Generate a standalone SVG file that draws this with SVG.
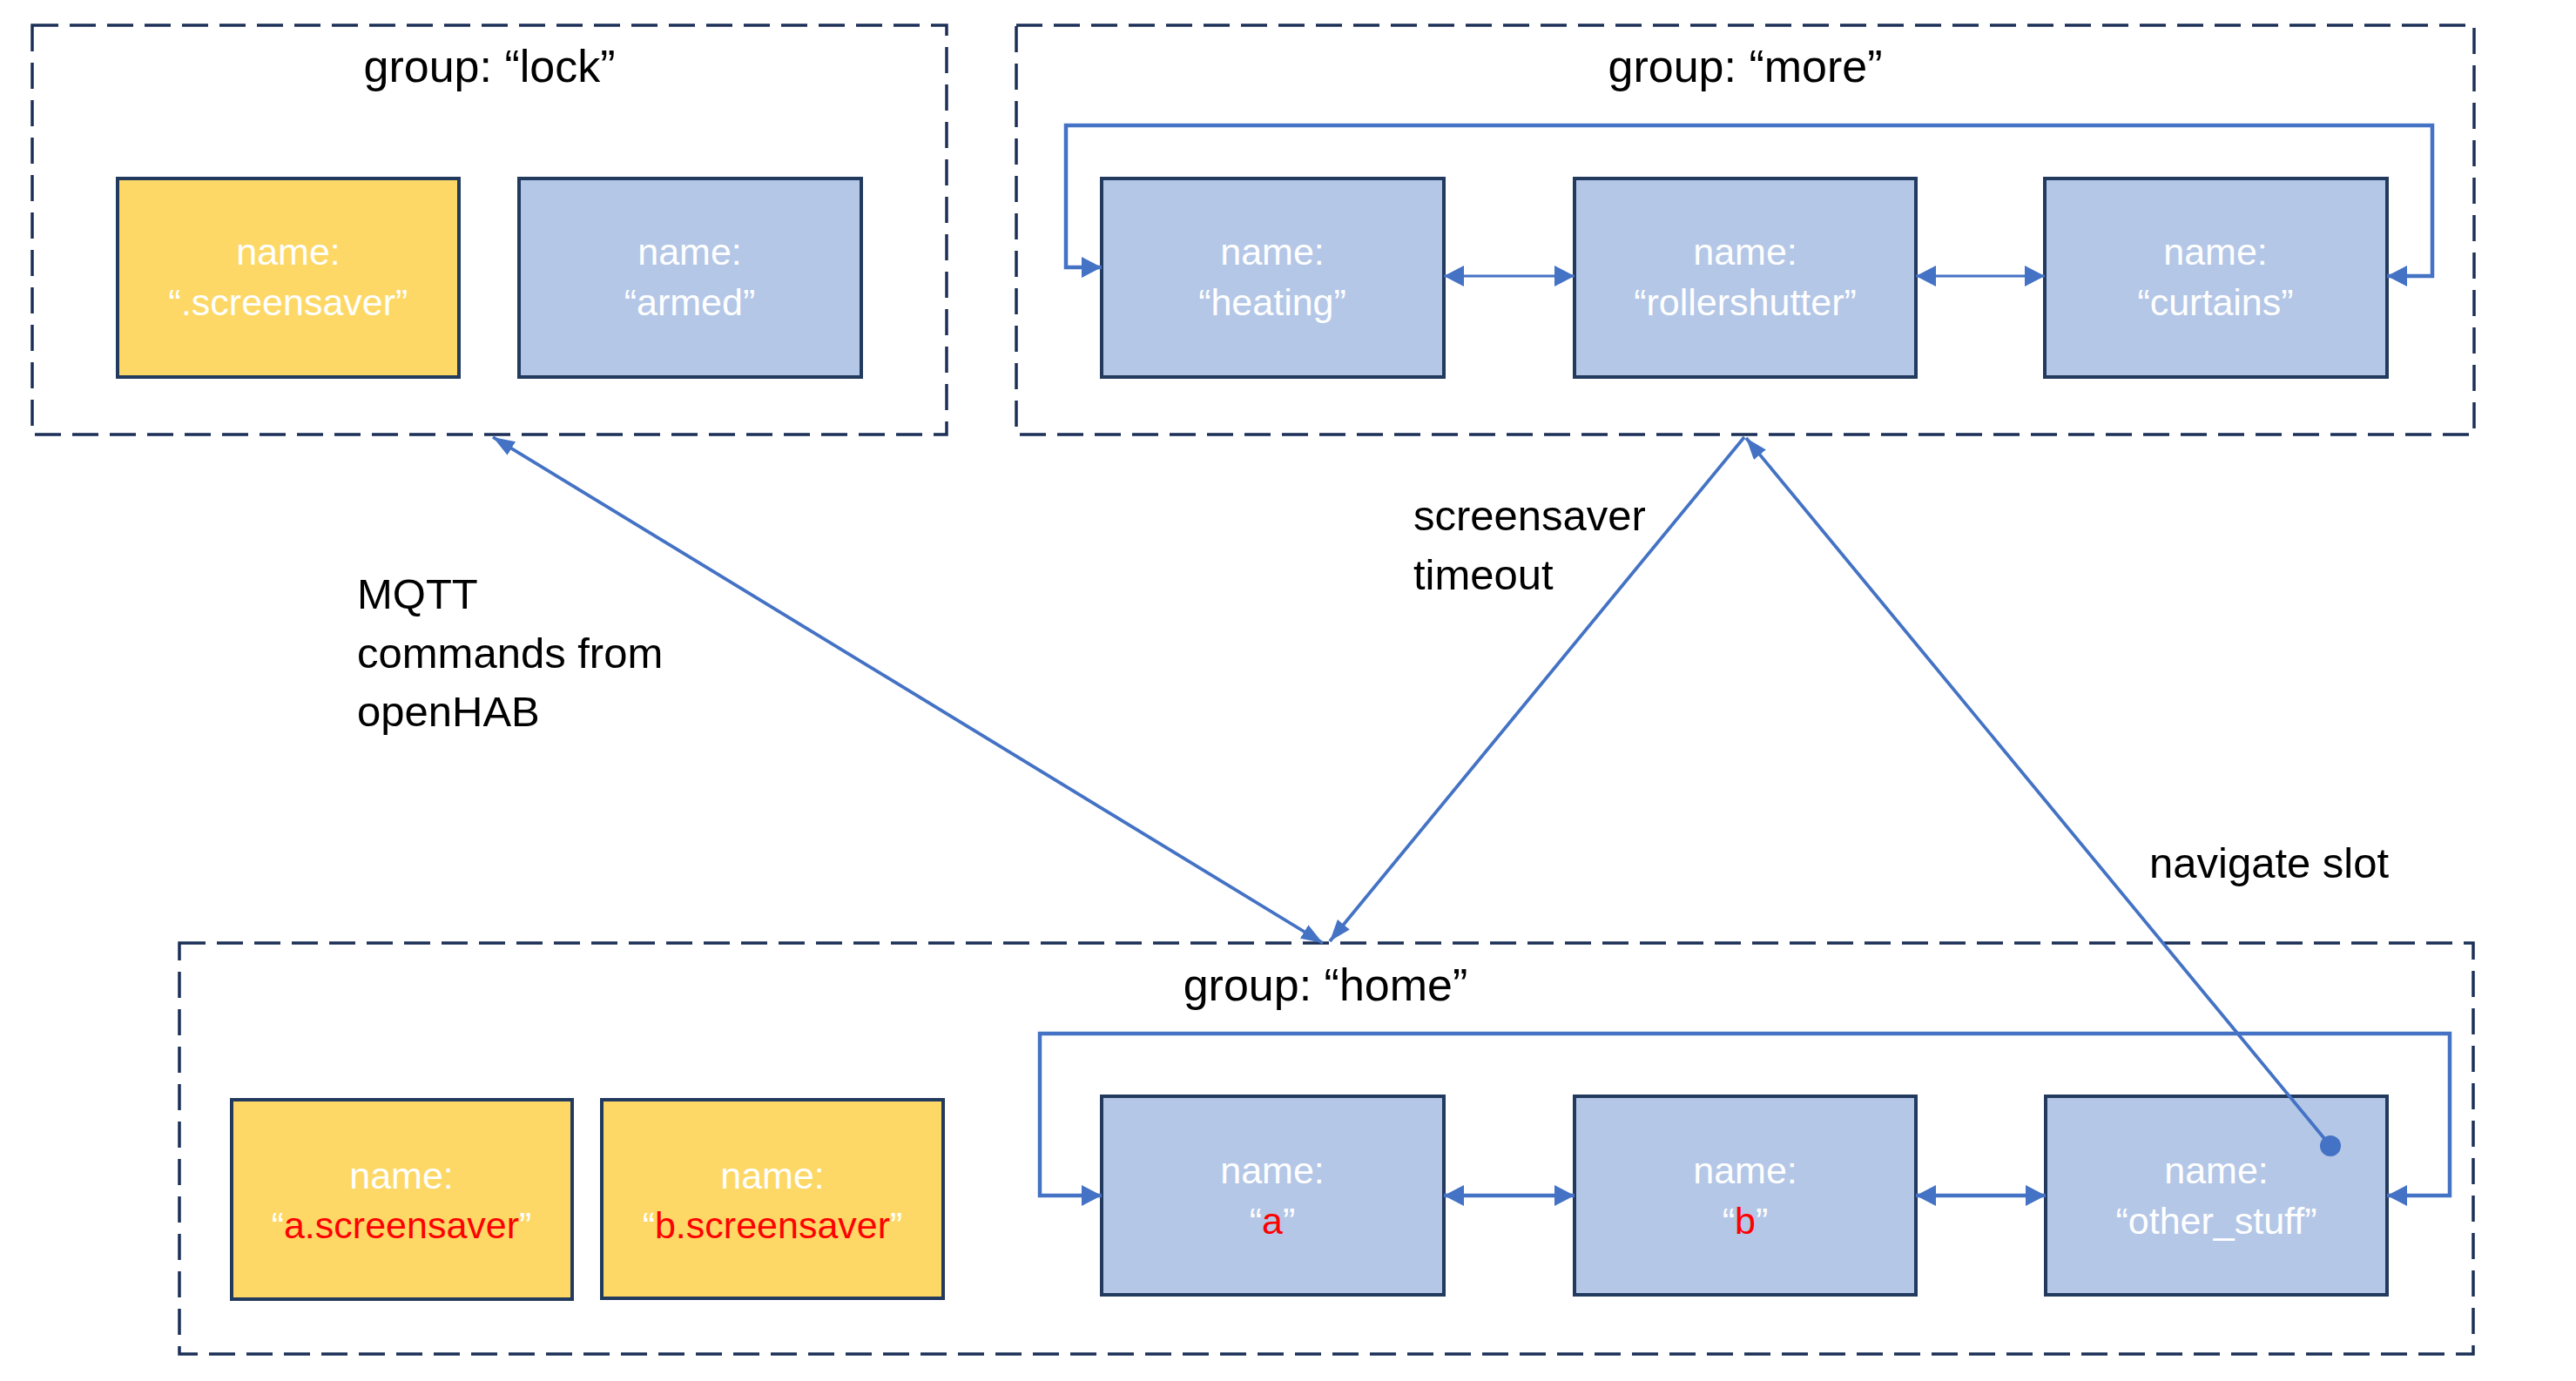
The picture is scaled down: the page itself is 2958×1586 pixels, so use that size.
<svg xmlns="http://www.w3.org/2000/svg" width="2958" height="1586" viewBox="0 0 2958 1586">
<style>
.grp{fill:none;stroke:#1b2f57;stroke-width:3.5;stroke-dasharray:30 13}
.nb{fill:#b4c7e7;stroke:#223a5e;stroke-width:4}
.ny{fill:#fdd866;stroke:#223a5e;stroke-width:4}
.nt{font-family:"Liberation Sans",Arial,sans-serif;font-size:43px;fill:#ffffff;text-anchor:middle}
.red{fill:#ff0000}
.title{font-family:"Liberation Sans",Arial,sans-serif;font-size:52px;fill:#000000;text-anchor:middle}
.lbl{font-family:"Liberation Sans",Arial,sans-serif;font-size:49px;fill:#000000}
.c{fill:none;stroke:#4472c4;stroke-linejoin:miter}
.thick{stroke-width:4.5}
.thin{stroke-width:2.8}
.diag{stroke-width:3.8}
</style>
<defs>
<marker id="ah" markerUnits="userSpaceOnUse" markerWidth="23" markerHeight="24" refX="23" refY="12" orient="auto-start-reverse" viewBox="0 0 23 24">
<path d="M0,0 L23,12 L0,24 z" fill="#4472c4"/>
</marker>
<marker id="ahd" markerUnits="userSpaceOnUse" markerWidth="25" markerHeight="18" refX="25" refY="9" orient="auto-start-reverse" viewBox="0 0 25 18">
<path d="M0,0 L25,9 L0,18 z" fill="#4472c4"/>
</marker>
</defs>
<rect width="2958" height="1586" fill="#ffffff"/>

<g id="group-lock">
<rect class="grp" x="37" y="29" width="1050" height="470"/>
<text class="title" x="562" y="94">group: “lock”</text>
</g>
<g id="group-more">
<rect class="grp" x="1167" y="29" width="1674" height="470"/>
<text class="title" x="2004" y="94">group: “more”</text>
</g>
<g id="group-home">
<rect class="grp" x="206" y="1083" width="2634" height="472"/>
<text class="title" x="1522" y="1149">group: “home”</text>
</g>

<g id="node-screensaver">
<rect class="ny" x="135" y="205" width="392" height="228"/>
<text class="nt" x="331" y="304">name:</text>
<text class="nt" x="331" y="362">“.screensaver”</text>
</g>
<g id="node-armed">
<rect class="nb" x="596" y="205" width="393" height="228"/>
<text class="nt" x="792" y="304">name:</text>
<text class="nt" x="792" y="362">“armed”</text>
</g>
<g id="node-heating">
<rect class="nb" x="1265" y="205" width="393" height="228"/>
<text class="nt" x="1461" y="304">name:</text>
<text class="nt" x="1461" y="362">“heating”</text>
</g>
<g id="node-rollershutter">
<rect class="nb" x="1808" y="205" width="392" height="228"/>
<text class="nt" x="2004" y="304">name:</text>
<text class="nt" x="2004" y="362">“rollershutter”</text>
</g>
<g id="node-curtains">
<rect class="nb" x="2348" y="205" width="393" height="228"/>
<text class="nt" x="2544" y="304">name:</text>
<text class="nt" x="2544" y="362">“curtains”</text>
</g>

<g id="node-a-screensaver">
<rect class="ny" x="266" y="1263" width="391" height="229"/>
<text class="nt" x="461" y="1365">name:</text>
<text class="nt" x="461" y="1422">“<tspan class="red">a.screensaver</tspan>”</text>
</g>
<g id="node-b-screensaver">
<rect class="ny" x="691" y="1263" width="392" height="228"/>
<text class="nt" x="887" y="1365">name:</text>
<text class="nt" x="887" y="1422">“<tspan class="red">b.screensaver</tspan>”</text>
</g>
<g id="node-a">
<rect class="nb" x="1265" y="1259" width="393" height="228"/>
<text class="nt" x="1461" y="1359">name:</text>
<text class="nt" x="1461" y="1417">“<tspan class="red">a</tspan>”</text>
</g>
<g id="node-b">
<rect class="nb" x="1808" y="1259" width="392" height="228"/>
<text class="nt" x="2004" y="1359">name:</text>
<text class="nt" x="2004" y="1417">“<tspan class="red">b</tspan>”</text>
</g>
<g id="node-other-stuff">
<rect class="nb" x="2349" y="1259" width="392" height="228"/>
<text class="nt" x="2545" y="1359">name:</text>
<text class="nt" x="2545" y="1417">“other_stuff”</text>
</g>

<g id="connectors">
<polyline class="c thick" points="1265,307 1224,307 1224,144 2793,144 2793,317 2741,317" marker-start="url(#ah)" marker-end="url(#ah)"/>
<line class="c thin" x1="1658" y1="317" x2="1808" y2="317" marker-start="url(#ah)" marker-end="url(#ah)"/>
<line class="c thin" x1="2200" y1="317" x2="2348" y2="317" marker-start="url(#ah)" marker-end="url(#ah)"/>
<polyline class="c thick" points="1265,1373 1194,1373 1194,1187 2813,1187 2813,1373 2741,1373" marker-start="url(#ah)" marker-end="url(#ah)"/>
<line class="c thick" x1="1658" y1="1373" x2="1808" y2="1373" marker-start="url(#ah)" marker-end="url(#ah)"/>
<line class="c thick" x1="2200" y1="1373" x2="2349" y2="1373" marker-start="url(#ah)" marker-end="url(#ah)"/>
<line class="c diag" x1="566" y1="502" x2="1519" y2="1083" marker-start="url(#ahd)" marker-end="url(#ahd)"/>
<line class="c diag" x1="2003" y1="502" x2="1527" y2="1081" marker-end="url(#ahd)"/>
<line class="c diag" x1="2676" y1="1316" x2="2005" y2="503" marker-end="url(#ahd)"/>
<circle cx="2676" cy="1316" r="12" fill="#4472c4"/>
</g>

<g id="labels">
<text class="lbl" x="410" y="699">MQTT</text>
<text class="lbl" x="410" y="767">commands from</text>
<text class="lbl" x="410" y="834">openHAB</text>
<text class="lbl" x="1623" y="609">screensaver</text>
<text class="lbl" x="1623" y="677">timeout</text>
<text class="lbl" x="2468" y="1008">navigate slot</text>
</g>
</svg>
